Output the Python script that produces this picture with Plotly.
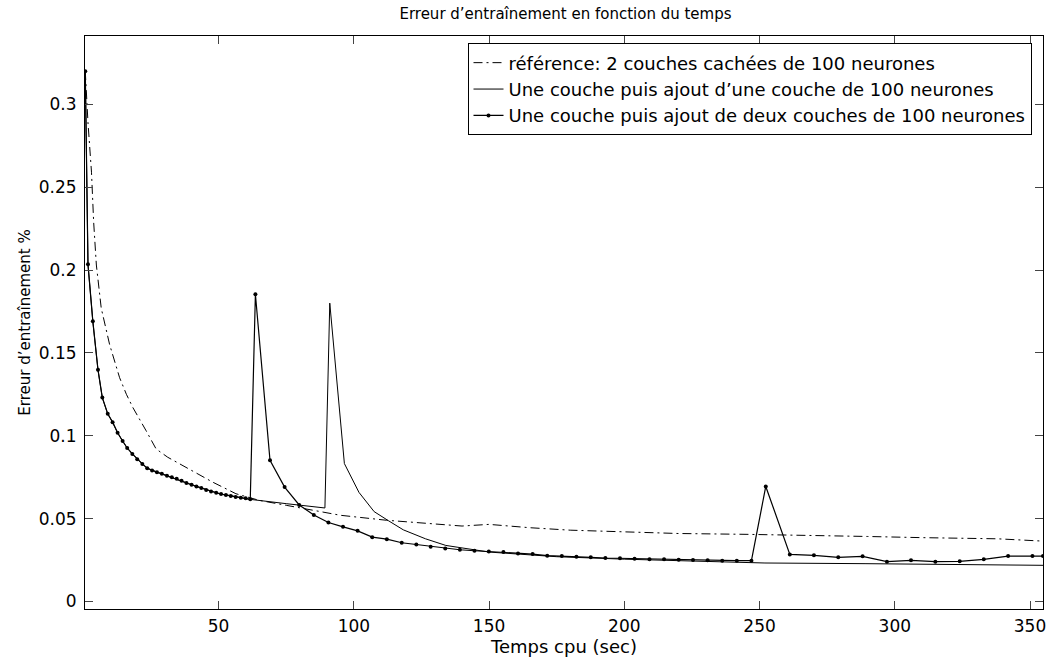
import plotly.graph_objects as go

# Reference network: 2 hidden layers of 100 neurons
ref_t = [0.7, 1.7, 3.0, 3.8, 4.8, 6.6, 9.7, 13.4, 15.9, 18.3, 23.2, 26.9, 31.2, 39.2,
         47.8, 56.4, 65, 75, 85, 95, 112, 127, 140, 150, 165, 180, 200, 220, 245,
         270, 290, 310, 338, 354.8]
ref_err = [0.320, 0.289, 0.259, 0.229, 0.203, 0.177, 0.155, 0.135, 0.125, 0.117, 0.103,
           0.092, 0.087, 0.080, 0.072, 0.065, 0.061, 0.058, 0.055, 0.052, 0.049, 0.047,
           0.0455, 0.0465, 0.0445, 0.043, 0.042, 0.041, 0.0405, 0.040, 0.0392, 0.0385,
           0.0378, 0.0364]

# One layer, then two layers of 100 neurons added
two_t = [0.7, 1.7, 3.5, 5.4, 7.0, 9.0, 10.8, 12.65, 14.5, 16.2, 18.1, 19.9, 21.8, 23.6,
         25.4, 27.2, 29.0, 30.9, 32.7, 34.5, 36.3, 38.1, 40.0, 41.8, 43.6, 45.4, 47.2,
         49.1, 50.9, 52.7, 54.5, 56.3, 58.2, 60.0, 61.7,
         63.6, 69.0, 74.4, 79.8, 85.2, 90.6, 96.0, 101.4, 106.8, 112.2, 117.7, 123.1,
         128.4, 133.8, 139.2, 144.6, 149.9, 155.3, 160.7, 166.1, 171.5, 176.9, 182.3,
         187.6, 193.0, 198.4, 203.8, 209.3, 214.7, 220.1, 225.4, 230.8, 236.2, 241.6,
         247.0, 252.3, 261.2, 270.1, 279.1, 288.1, 297.1, 306.0, 315.0, 324.0, 332.9,
         341.9, 350.9, 354.8]
two_err = [0.320, 0.2034, 0.169, 0.1398, 0.1230, 0.1132, 0.1082, 0.1018, 0.0968, 0.0926,
           0.0890, 0.0858, 0.0830, 0.0804, 0.0790, 0.0780, 0.0770, 0.0758, 0.0750, 0.0740,
           0.0728, 0.0714, 0.0704, 0.0694, 0.0684, 0.0672, 0.0664, 0.0656, 0.0648, 0.0642,
           0.0636, 0.0630, 0.0626, 0.0622, 0.0616,
           0.1854, 0.0852, 0.0690, 0.0582, 0.0522, 0.0476, 0.0450, 0.0426, 0.0388, 0.0376,
           0.0354, 0.0344, 0.0330, 0.0320, 0.0312, 0.0306, 0.0302, 0.0298, 0.0290, 0.0286,
           0.0276, 0.0274, 0.0270, 0.0266, 0.0262, 0.0260, 0.0258, 0.0254, 0.0254, 0.0252,
           0.0250, 0.0248, 0.0246, 0.0246, 0.0246, 0.0694, 0.0284, 0.0278, 0.0266, 0.0272,
           0.0240, 0.0248, 0.0240, 0.0242, 0.0254, 0.0274, 0.0274, 0.0274]

# One layer, then one layer of 100 neurons added
one_t = two_t[:35] + [75.0, 89.3, 91.1, 96.5, 101.9, 107.5, 112.7, 118.3, 126.5, 134.0,
                      150, 175, 200, 227, 252, 289, 320, 354.8]
one_err = two_err[:35] + [0.0590, 0.0564, 0.1800, 0.0832, 0.0658, 0.0542, 0.0488, 0.0432,
                          0.0378, 0.0338, 0.0298, 0.0270, 0.0255, 0.0244, 0.0232, 0.0228,
                          0.0224, 0.0218]

x_ticks = [50, 100, 150, 200, 250, 300, 350]
y_ticks = [0, 0.05, 0.1, 0.15, 0.2, 0.25, 0.3]
y_tick_text = ["0", "0.05", "0.1", "0.15", "0.2", "0.25", "0.3"]

font = "DejaVu Sans, Liberation Sans, Arial, sans-serif"

fig = go.Figure()
fig.add_trace(go.Scatter(
    x=ref_t, y=ref_err, mode="lines",
    name="référence: 2 couches cachées de 100 neurones",
    line=dict(color="black", width=1, dash="9px,4px,2px,4px"),
))
fig.add_trace(go.Scatter(
    x=one_t, y=one_err, mode="lines",
    name="Une couche puis ajout d’une couche de 100 neurones",
    line=dict(color="black", width=1),
))
fig.add_trace(go.Scatter(
    x=two_t, y=two_err, mode="lines+markers",
    name="Une couche puis ajout de deux couches de 100 neurones",
    line=dict(color="black", width=1.2),
    marker=dict(color="black", size=4, symbol="circle"),
))

axis_common = dict(
    showline=True, linecolor="black", linewidth=1, mirror="ticks",
    ticks="inside", ticklen=8, tickwidth=1, tickcolor="#444",
    showgrid=False, zeroline=False,
    tickfont=dict(family=font, size=17, color="black"),
)

fig.update_layout(
    width=1056, height=659,
    margin=dict(l=85, r=10, t=36, b=47),
    paper_bgcolor="white", plot_bgcolor="white",
    title=dict(text="Erreur d’entraînement en fonction du temps",
               x=0.5355, xanchor="center", y=0.979, yanchor="middle",
               font=dict(family=font, size=15, color="black")),
    xaxis=dict(range=[0.6, 354.8], tickvals=x_ticks,
               title=dict(text="Temps cpu (sec)", standoff=0,
                          font=dict(family=font, size=18, color="black")),
               ticklabelstandoff=2, **axis_common),
    yaxis=dict(range=[-0.00456, 0.3412], tickvals=y_ticks, ticktext=y_tick_text,
               title=dict(text="Erreur d’entraînement %", standoff=4,
                          font=dict(family=font, size=15, color="black")),
               ticklabelstandoff=4, **axis_common),
    legend=dict(x=0.988, y=0.987, xanchor="right", yanchor="top",
                bgcolor="white", bordercolor="black", borderwidth=1,
                font=dict(family=font, size=18, color="black"),
                tracegroupgap=0, itemwidth=30),
    showlegend=True,
)

fig.write_html("out.html")
